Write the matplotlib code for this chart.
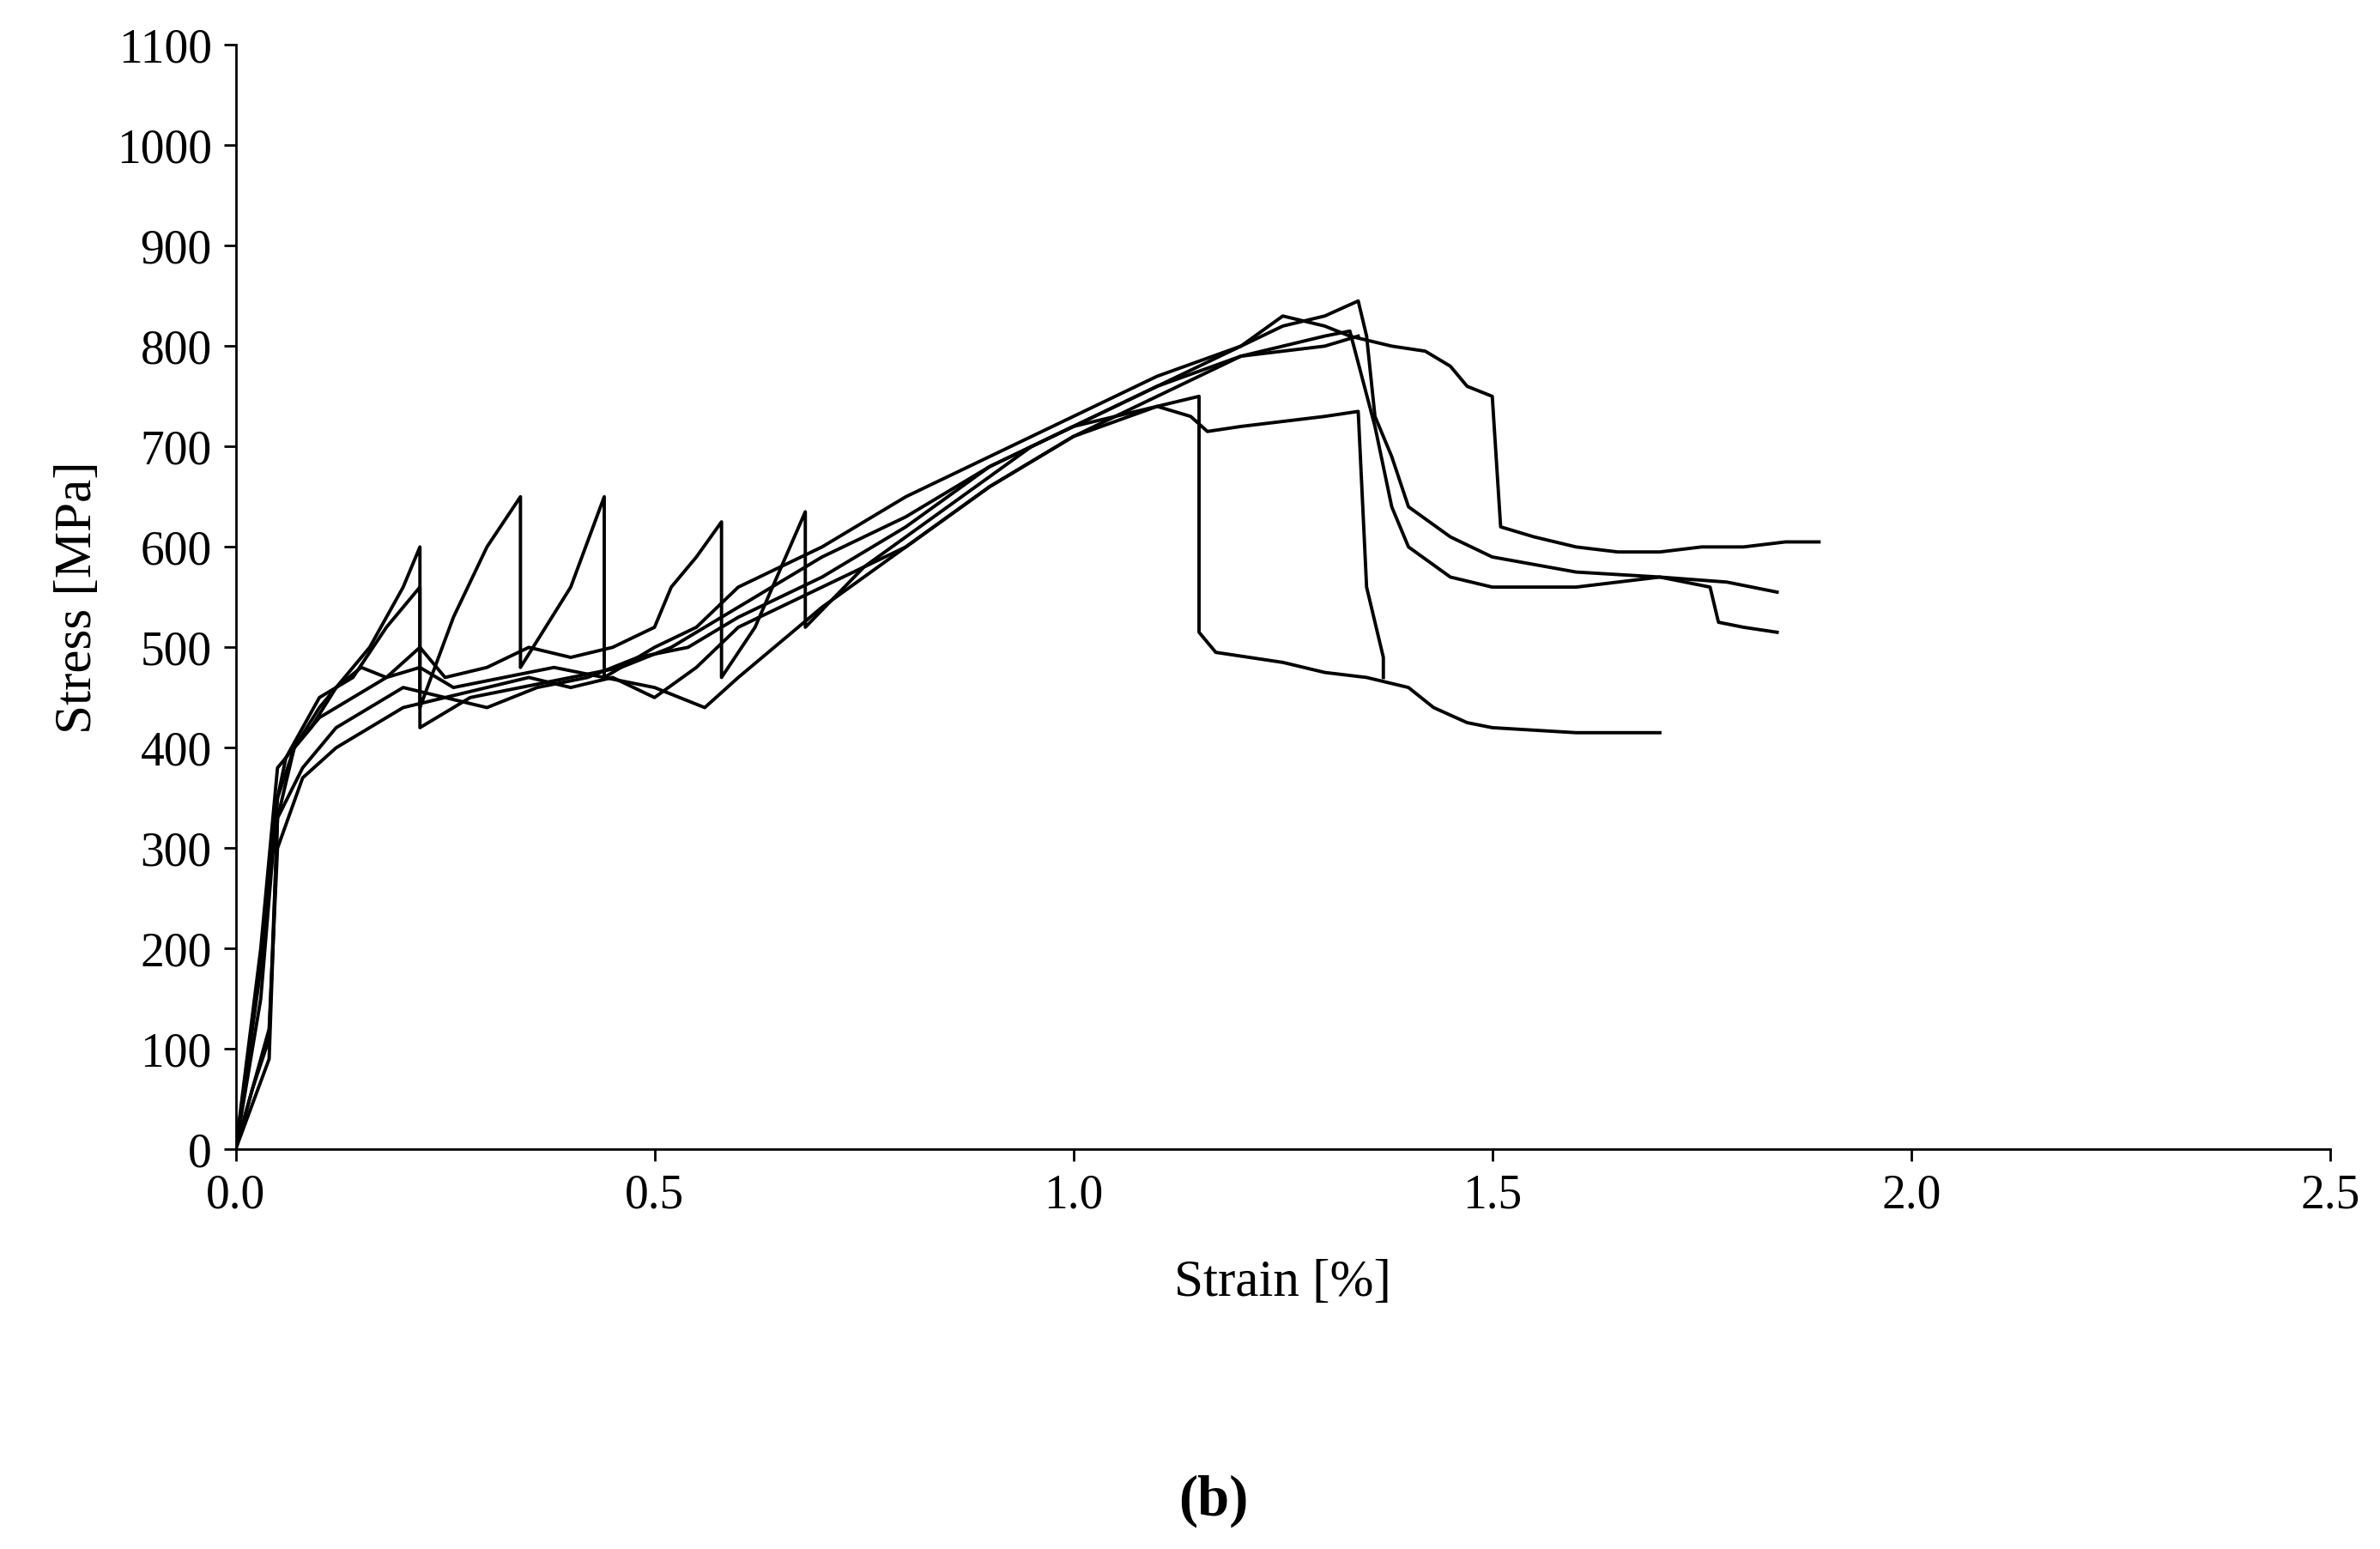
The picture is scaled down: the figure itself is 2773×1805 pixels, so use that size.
import matplotlib
matplotlib.use("Agg")
import matplotlib.pyplot as plt

# strain [%], stress [MPa] for six specimens
s1_x = [0, 0.02, 0.04, 0.05, 0.07, 0.10, 0.13, 0.16, 0.20, 0.22, 0.22, 0.26, 0.30, 0.34, 0.34, 0.40, 0.44, 0.44, 0.50, 0.55, 0.60,
        0.70, 0.80, 0.90, 1.00, 1.10, 1.20, 1.25, 1.30, 1.33, 1.38, 1.42, 1.45, 1.47, 1.50, 1.51, 1.55, 1.60, 1.65, 1.70, 1.75, 1.80, 1.85, 1.89]
s1_y = [0, 60, 110, 330, 400, 440, 470, 500, 560, 600, 440, 530, 600, 650, 480, 560, 650, 470, 500, 520, 560,
        600, 650, 690, 730, 770, 800, 830, 820, 810, 800, 795, 780, 760, 750, 620, 610, 600, 595, 595, 600, 600, 605, 605]
s2_x = [0, 0.03, 0.05, 0.06, 0.09, 0.12, 0.15, 0.18, 0.22, 0.25, 0.30, 0.35, 0.40, 0.45, 0.50, 0.52, 0.55, 0.58, 0.58, 0.62,
        0.68, 0.68, 0.75, 0.85, 0.95, 1.05, 1.15, 1.25, 1.30, 1.34, 1.35, 1.36, 1.38, 1.40, 1.45, 1.50, 1.60, 1.70, 1.78, 1.84]
s2_y = [0, 150, 350, 390, 420, 460, 480, 470, 500, 470, 480, 500, 490, 500, 520, 560, 590, 625, 470, 520,
        635, 520, 580, 640, 700, 740, 780, 820, 830, 845, 810, 730, 690, 640, 610, 590, 575, 570, 565, 555]
s3_x = [0, 0.04, 0.05, 0.08, 0.12, 0.16, 0.20, 0.25, 0.30, 0.35, 0.40, 0.45, 0.50, 0.55, 0.60, 0.70, 0.80, 0.90, 1.00,
        1.10, 1.20, 1.30, 1.33, 1.36, 1.38, 1.40, 1.45, 1.50, 1.60, 1.70, 1.76, 1.77, 1.80, 1.84]
s3_y = [0, 90, 330, 380, 420, 440, 460, 450, 460, 470, 460, 470, 450, 480, 520, 560, 600, 660, 710,
        750, 790, 810, 815, 720, 640, 600, 570, 560, 560, 570, 560, 525, 520, 515]
s4_x = [0, 0.03, 0.05, 0.07, 0.10, 0.14, 0.18, 0.22, 0.26, 0.32, 0.38, 0.44, 0.50, 0.56, 0.60, 0.70, 0.80, 0.90, 1.00,
        1.10, 1.15, 1.15, 1.17, 1.25, 1.30, 1.35, 1.40, 1.43, 1.47, 1.50, 1.60, 1.70]
s4_y = [0, 180, 350, 400, 430, 450, 470, 480, 460, 470, 480, 470, 460, 440, 470, 540, 600, 660, 710,
        740, 750, 515, 495, 485, 475, 470, 460, 440, 425, 420, 415, 415]
s5_x = [0, 0.04, 0.05, 0.08, 0.12, 0.16, 0.20, 0.25, 0.30, 0.36, 0.42, 0.48, 0.54, 0.60, 0.70, 0.80, 0.90, 1.00,
        1.10, 1.14, 1.16, 1.20, 1.25, 1.30, 1.34, 1.35, 1.37, 1.37]
s5_y = [0, 120, 300, 370, 400, 420, 440, 450, 440, 460, 470, 490, 500, 530, 570, 620, 680, 720,
        740, 730, 715, 720, 725, 730, 735, 560, 490, 470]
s6_x = [0, 0.03, 0.05, 0.06, 0.10, 0.14, 0.18, 0.22, 0.22, 0.28, 0.34, 0.40, 0.46, 0.52, 0.58, 0.64, 0.70, 0.80, 0.90,
        1.00, 1.10, 1.20, 1.30, 1.34]
s6_y = [0, 200, 380, 390, 450, 470, 520, 560, 420, 450, 460, 470, 480, 500, 530, 560, 590, 630, 680,
        720, 760, 790, 800, 810]

curves = [(s1_x, s1_y), (s2_x, s2_y), (s3_x, s3_y), (s4_x, s4_y), (s5_x, s5_y), (s6_x, s6_y)]

plt.rcParams["font.family"] = ["Liberation Serif", "DejaVu Serif"]
fig = plt.figure(figsize=(27.73, 18.05), dpi=100)
ax = fig.add_axes([0.099, 0.258, 0.88, 0.713])
for xs, ys in curves:
    ax.plot(xs, ys, color="black", lw=2.8)

ax.set_xlim(0, 2.5)
ax.set_ylim(0, 1100)
ax.set_xticks([0, 0.5, 1.0, 1.5, 2.0, 2.5])
ax.set_xticklabels(["0.0", "0.5", "1.0", "1.5", "2.0", "2.5"])
ax.set_yticks(range(0, 1101, 100))
ax.tick_params(labelsize=40, direction="out", length=10, width=2, pad=10)
for side in ("top", "right"):
    ax.spines[side].set_visible(False)
for side in ("left", "bottom"):
    ax.spines[side].set_linewidth(2)
ax.set_xlabel("Strain [%]", fontsize=44, labelpad=35)
ax.set_ylabel("Stress [MPa]", fontsize=44, labelpad=12)
fig.text(0.51, 0.022, "(b)", fontsize=48, fontweight="bold", ha="center")
fig.savefig("out.png", dpi=100)
